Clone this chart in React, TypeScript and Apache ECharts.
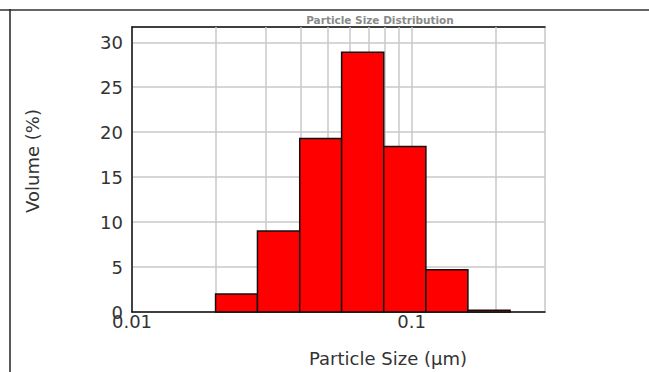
import React, { useEffect, useRef } from "react";
import * as echarts from "echarts";

const binLower = [0.0199, 0.0281, 0.0398, 0.0562, 0.0795, 0.1125, 0.159];
const binUpper = [0.0281, 0.0398, 0.0562, 0.0795, 0.1125, 0.159, 0.225];
const volume = [2.0, 9.0, 19.3, 28.9, 18.4, 4.7, 0.2];
const xGridValues = [0.02, 0.03, 0.04, 0.05, 0.06, 0.07, 0.08, 0.09, 0.1, 0.2];
const xTickLabels = [0.01, 0.1];

const FONT = "DejaVu Sans";

export default function App() {
  const ref = useRef<HTMLDivElement>(null);
  useEffect(() => {
    if (!ref.current) return;
    const chart = echarts.init(ref.current, undefined, { renderer: "svg" });
    const data = binLower.map((lo, i) => [lo, binUpper[i], volume[i]]);
    chart.setOption({
      animation: false,
      backgroundColor: "#fff",
      grid: { left: 132, top: 27, right: 104, bottom: 60, show: true, borderColor: "#c8c8c8", borderWidth: 1.5 },
      xAxis: [
        {
          type: "log",
          logBase: 10,
          min: 0.01,
          max: 0.3,
          axisLine: { show: true, lineStyle: { color: "#111", width: 1.5 } },
          axisTick: { show: false },
          splitLine: { show: false },
          axisLabel: {
            color: "#333",
            fontFamily: FONT,
            fontSize: 18,
            margin: 0,
            showMaxLabel: false,
            formatter: (v: number) => {
              const r = Number(v.toPrecision(3));
              return xTickLabels.includes(r) ? String(r) : "";
            },
          },
        },
        {
          type: "value",
          position: "top",
          min: 0,
          max: 1,
          axisLine: { show: true, lineStyle: { color: "#111", width: 1.5 } },
          axisTick: { show: false },
          axisLabel: { show: false },
          splitLine: { show: false },
        },
      ],
      yAxis: {
        type: "value",
        min: 0,
        max: 31.7,
        interval: 5,
        axisLine: { show: true, lineStyle: { color: "#111", width: 1.5 } },
        axisTick: { show: false },
        splitLine: { show: true, lineStyle: { color: "#c8c8c8", width: 1.5 } },
        axisLabel: {
          color: "#333",
          fontFamily: FONT,
          fontSize: 18,
          margin: 9,
          formatter: (v: number) => (v % 5 === 0 ? String(v) : ""),
        },
      },
      graphic: [
        { type: "line", shape: { x1: 0, y1: 10, x2: 649, y2: 10 }, style: { stroke: "#666", lineWidth: 2 } },
        { type: "line", shape: { x1: 10, y1: 9, x2: 10, y2: 372 }, style: { stroke: "#222", lineWidth: 1.5 } },
        {
          type: "text",
          x: 380,
          y: 20,
          style: { text: "Particle Size Distribution", fill: "#8a8a8a", font: `bold 10.5px "${FONT}"`, align: "center", verticalAlign: "middle" },
        },
        {
          type: "text",
          x: 388,
          y: 358,
          style: { text: "Particle Size (µm)", fill: "#333", font: `18px "${FONT}"`, align: "center", verticalAlign: "middle" },
        },
        {
          type: "text",
          x: 32,
          y: 161,
          rotation: Math.PI / 2,
          style: { text: "Volume (%)", fill: "#333", font: `18px "${FONT}"`, align: "center", verticalAlign: "middle" },
        },
      ],
      series: [
        {
          type: "line",
          data: [],
          z: 1,
          silent: true,
          markLine: {
            silent: true,
            symbol: "none",
            label: { show: false },
            lineStyle: { color: "#c8c8c8", width: 1.5, type: "solid" },
            data: xGridValues.map((v) => ({ xAxis: v })),
          },
        },
        {
          type: "custom",
          z: 5,
          data,
          encode: { x: [0, 1], y: 2 },
          renderItem: (_params: any, api: any) => {
            const lo = api.coord([api.value(0), 0]);
            const hi = api.coord([api.value(1), api.value(2)]);
            return {
              type: "rect",
              shape: { x: lo[0], y: hi[1], width: hi[0] - lo[0], height: lo[1] - hi[1] },
              style: { fill: "#ff0000", stroke: "#111", lineWidth: 1.5 },
            };
          },
        },
      ],
    });
    return () => chart.dispose();
  }, []);
  return <div ref={ref} style={{ position: "fixed", left: 0, top: 0, width: 649, height: 372 }} />;
}
